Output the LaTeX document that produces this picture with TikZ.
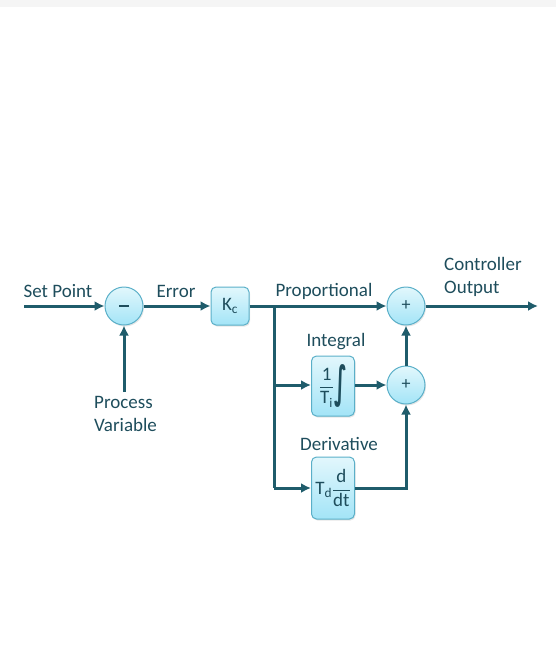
\documentclass[tikz,border=0pt]{standalone}
\usepackage{amsmath}
\usepackage{fontspec}
\setmainfont{Carlito}
\newfontfamily\symfont{DejaVu Sans}
\usetikzlibrary{arrows.meta, calc, positioning, shadows}
\definecolor{wire}{HTML}{1F5C6B}
\definecolor{ink}{HTML}{1E4D5C}
\definecolor{rim}{HTML}{5AAFC8}
\definecolor{topfill}{HTML}{E2F7FC}
\definecolor{botfill}{HTML}{A3E4F7}
\tikzstyle{line} = [draw, wire, line width=3pt, -{Latex[length=10pt,width=10pt]}]
\tikzstyle{wireline} = [draw, wire, line width=3pt]
\tikzstyle{block} = [rectangle, draw=rim, line width=1pt, rounded corners=5pt, top color=topfill, bottom color=botfill, text=ink, text centered, inner sep=1pt, font=\fontsize{19}{22}\selectfont, drop shadow={opacity=0.2, shadow xshift=1pt, shadow yshift=-1.5pt}]
\tikzstyle{sum} = [circle, draw=rim, line width=1pt, minimum size=38pt, inner sep=0pt, top color=topfill, bottom color=botfill, text=ink, font=\fontsize{18}{20}\selectfont, drop shadow={opacity=0.2, shadow xshift=1pt, shadow yshift=-1.5pt}]
\tikzstyle{tag} = [text=ink, inner sep=1pt, font=\fontsize{19}{23}\selectfont]
\newcommand{\bigint}{\raisebox{-0.6ex}{\scalebox{1.1}[2.3]{\symfont\bfseries ∫}}}

\begin{document}
\begin{tikzpicture}[x=1pt, y=-1pt]
\useasboundingbox (0,0) rectangle (556,657);
\fill[black!4] (0,0) rectangle (556,7);
\node [sum] (diff) at (124,306) {\rule{10pt}{1.3pt}};
\node [block, minimum width=38pt, minimum height=38pt] (gain) at (230,306) {K\textsubscript{c}};
\node [sum] (sumP) at (406,306) {+};
\node [block, minimum width=43pt, minimum height=60pt] (integ) at (333,386) {$\dfrac{\text{1}}{\text{T\textsubscript{i}}}$\bigint};
\node [sum] (sumID) at (406,385) {+};
\node [block, minimum width=43pt, minimum height=62pt] (deriv) at (333,488) {T\textsubscript{d}$\dfrac{\text{d}}{\text{dt}}$};
\coordinate (sp) at (24,306);
\coordinate (pv) at (124,392);
\coordinate (split) at (274,306);
\coordinate (out) at (538,306);
% labels
\node [tag] (splabel) at (58,291) {Set Point};
\node [tag, anchor=west, align=left] (pvlabel) at (93,414) {Process\\Variable};
\node [tag] (errlabel) at (176,291) {Error};
\node [tag] (plabel) at (324,291) {Proportional};
\node [tag] (ilabel) at (336,342) {Integral};
\node [tag] (dlabel) at (339,444) {Derivative};
\node [tag, anchor=west, align=left] (outlabel) at (443,277) {Controller\\Output};
% connectors
\path [line] (sp) -- (diff);
\path [line] (pv) -- (diff);
\path [line] (diff) -- (gain);
\path [line] (gain) -- (sumP);
\path [wireline] (split) -- (split |- deriv);
\path [line] (split |- sumID) -- (integ.west |- sumID);
\path [line] (split |- deriv) -- (deriv);
\path [line] (integ.east |- sumID) -- (sumID);
\path [line] (sumID) -- (sumP);
\path [line] (deriv) -| (sumID);
\path [line] (sumP) -- (out);
\end{tikzpicture}
\end{document}
